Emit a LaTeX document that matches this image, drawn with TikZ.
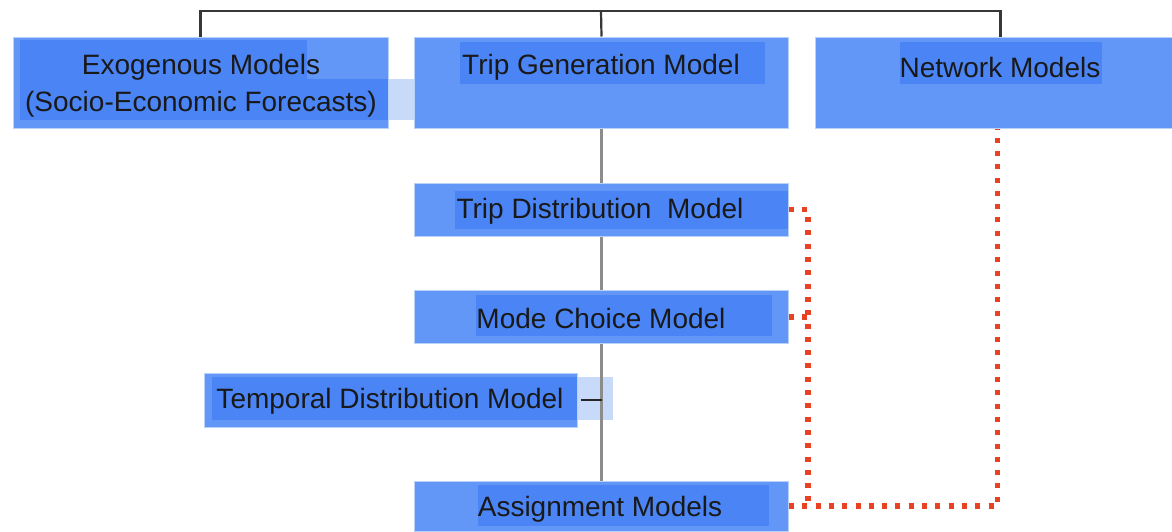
\documentclass[tikz,border=0pt]{standalone}
\usepackage{fontspec}
\setmainfont{Liberation Sans}
\usetikzlibrary{calc}
\definecolor{boxblue}{RGB}{98,151,248}
\definecolor{boxedge}{RGB}{185,210,250}
\definecolor{hidark}{RGB}{74,132,245}
\definecolor{hilight}{RGB}{199,218,250}
\definecolor{linkred}{RGB}{232,66,34}
\definecolor{treegray}{RGB}{140,140,140}
\definecolor{topline}{RGB}{55,55,55}
\tikzset{
  box/.style={rectangle, fill=boxblue, draw=boxedge, line width=1pt, inner sep=0pt},
  label/.style={inner sep=0pt, text=black!90, font=\fontsize{28}{37}\selectfont, align=center},
  hidk/.style={fill=hidark},
  hilt/.style={fill=hilight},
  tree/.style={draw=treegray, line width=3pt},
  toptree/.style={draw=topline, line width=2.2pt},
  tick/.style={draw=black!85, line width=1.6pt},
  reddots/.style={draw=linkred, line width=5.2pt, dash pattern=on 5pt off 8.3pt}
}
\begin{document}
\begin{tikzpicture}[x=1pt,y=-1pt]
\useasboundingbox (0,0) rectangle (1172,531);

% light parts of the text highlights that stick out past their boxes
\fill[hilt] (388,79) rectangle (422,120);
\fill[hilt] (577,377) rectangle (613,420);

% model boxes
\node[box, minimum width=375pt, minimum height=91pt] (exo) at (200.5,82.5) {};
\node[box, minimum width=374pt, minimum height=91pt] (tg)  at (601.5,82.5) {};
\node[box, minimum width=357pt, minimum height=91pt] (net) at (993.5,82.5) {};
\node[box, minimum width=374pt, minimum height=53pt] (td)  at (601.5,209.5) {};
\node[box, minimum width=374pt, minimum height=53pt] (mc)  at (601.5,317) {};
\node[box, minimum width=373pt, minimum height=54pt] (tp)  at (390.5,400) {};
\node[box, minimum width=374pt, minimum height=50pt] (as)  at (601.5,506) {};

% darker text highlights inside the boxes
\fill[hidk] (20,40) rectangle (307,79);
\fill[hidk] (20,79) rectangle (388,120);
\fill[hidk] (460,42) rectangle (765,84);
\fill[hidk] (900,42) rectangle (1102,84);
\fill[hidk] (455,191) rectangle (788,229);
\fill[hidk] (476,295) rectangle (772,336);
\fill[hidk] (212,377) rectangle (577,420);
\fill[hidk] (478,485) rectangle (769,526);

% box texts
\node[label] (exo-t) at (201,86) {Exogenous Models\\(Socio-Economic Forecasts)};
\node[label] (tg-t)  at (601,67) {Trip Generation Model};
\node[label] (net-t) at (1000,67) {Network Models};
\node[label] (td-t)  at (600,211.5) {Trip Distribution\ \ Model};
\node[label] (mc-t)  at (601,318.5) {Mode Choice Model};
\node[label] (tp-t)  at (390,401.5) {Temporal Distribution Model};
\node[label] (as-t)  at (600,509.5) {Assignment Models};

% tree connectors
\coordinate (top) at (601,11);
\coordinate (nettop) at ([xshift=186pt]net.north west);
\draw[toptree] (exo.north) |- (top) -| (nettop);
\draw[toptree] (tg.north) -- (top);
\draw[tree] (tg.south) -- (td.north);
\draw[tree] (td.south) -- (mc.north);
\draw[tree] (mc.south) -- (as.north);
\draw[tick] ([xshift=3pt]tp.east) -- (tp.east -| mc.south);

% feedback links to the network models
\coordinate (rj) at (808,507);
\coordinate (netbot) at ([xshift=183pt]net.south west);
\draw[reddots] (td.east) -| (rj);
\draw[reddots] (mc.east) -- (mc.east -| rj);
\draw[reddots] (as.east) -| (netbot);
\end{tikzpicture}
\end{document}
